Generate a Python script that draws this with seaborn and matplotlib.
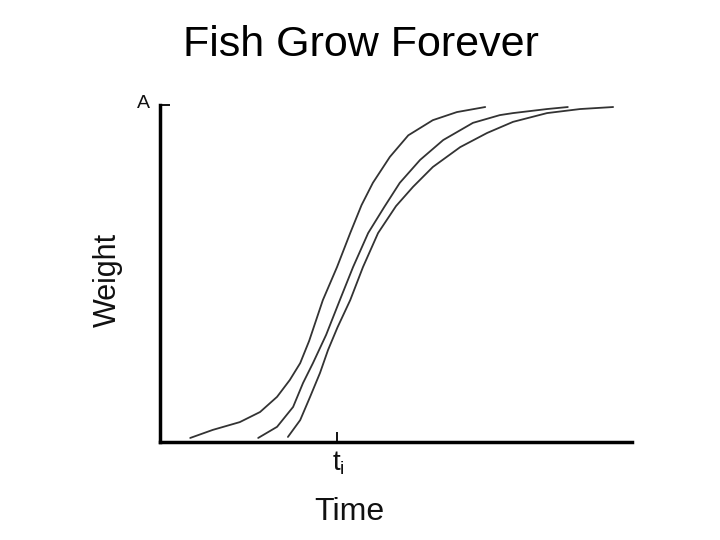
import matplotlib
matplotlib.use("Agg")
import matplotlib.pyplot as plt
import seaborn as sns
import pandas as pd

sns.set_theme(style="white")
plt.rcParams['font.family'] = ['Liberation Sans', 'DejaVu Sans']

# (time 0-100, weight 0-100 where A = 100)
c1_t = [6.4, 11.2, 16.9, 21.2, 24.8, 27.5, 29.7, 31.6, 34.5, 37.5, 40.3, 42.7,
        45.1, 48.7, 52.6, 57.8, 62.9, 68.9]
c1_w = [1.2, 3.6, 5.9, 8.9, 13.4, 18.4, 23.4, 30.0, 42.1, 51.9, 62.0, 70.3,
        76.9, 84.6, 91.0, 95.5, 97.9, 99.4]
c2_t = [20.8, 24.8, 28.2, 30.3, 32.4, 35.2, 38.1, 40.9, 44.1, 47.5, 50.8, 55.1,
        60.0, 66.3, 72.0, 74.8, 82.0, 86.4]
c2_w = [1.2, 4.5, 10.4, 17.5, 23.4, 31.8, 42.1, 51.9, 62.0, 69.7, 76.9, 83.7,
        89.6, 94.7, 97.0, 97.6, 98.8, 99.4]
c3_t = [27.1, 29.7, 31.8, 33.9, 35.6, 37.6, 40.3, 43.0, 46.2, 50.0, 53.6, 57.8,
        63.6, 69.3, 74.8, 82.0, 89.0, 96.0]
c3_w = [1.5, 6.5, 13.4, 20.5, 27.3, 34.0, 42.1, 51.9, 62.0, 70.0, 75.7, 81.6,
        87.5, 91.7, 95.0, 97.6, 98.8, 99.4]

ti_value = 37.5
x_tick_labels = ["t$_\\mathregular{i}$"]
y_tick_labels = ["A"]

df = pd.concat([
    pd.DataFrame({"Time": c1_t, "Weight": c1_w, "fish": "1"}),
    pd.DataFrame({"Time": c2_t, "Weight": c2_w, "fish": "2"}),
    pd.DataFrame({"Time": c3_t, "Weight": c3_w, "fish": "3"}),
])

fig = plt.figure(figsize=(7.2, 5.4), dpi=100)
ax = fig.add_axes([160/720, (540-442)/540, (632-160)/720, (442-105)/540])
sns.lineplot(data=df, x="Time", y="Weight", units="fish", estimator=None,
             sort=False, color="#333333", linewidth=1.3, ax=ax)
for line in ax.get_lines():
    line.set_solid_joinstyle("round")
ax.set_xlim(0, 100)
ax.set_ylim(0, 100)
for s in ["top", "right"]:
    ax.spines[s].set_visible(False)
for s in ["left", "bottom"]:
    ax.spines[s].set_color("black")
    ax.spines[s].set_linewidth(2.5)
ax.set_xticks([ti_value])
ax.set_xticklabels([])
ax.set_yticks([100])
ax.set_yticklabels([])
ax.tick_params(axis="both", direction="in", length=7, width=1.3, color="black",
               bottom=True, left=True)
ax.set_xlabel("")
ax.set_ylabel("")

fig.text(361/720, 1-45/540, "Fish Grow Forever", ha="center", va="center",
         fontsize=31, color="black")
fig.text(108/720, 1-280/540, "Weight", ha="center", va="center", rotation=90,
         fontsize=22, color="#111111")
fig.text(349/720, 1-512/540, "Time", ha="center", va="center",
         fontsize=23, color="#111111")
fig.text(338/720, 1-463/540, x_tick_labels[0], ha="center", va="center",
         fontsize=20, color="#111111")
fig.text(143/720, 1-103/540, y_tick_labels[0], ha="center", va="center",
         fontsize=14, color="#111111")

fig.savefig("out.png", dpi=100)
